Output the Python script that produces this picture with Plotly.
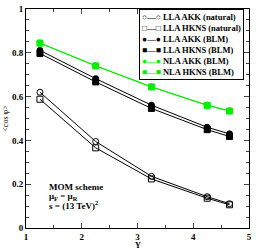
import plotly.graph_objects as go

Y = [1.25, 2.25, 3.25, 4.25, 4.65]
lla_akk_nat = [0.620, 0.395, 0.236, 0.143, 0.111]
lla_hkns_nat = [0.588, 0.366, 0.224, 0.136, 0.106]
lla_akk_blm = [0.811, 0.682, 0.561, 0.460, 0.430]
lla_hkns_blm = [0.797, 0.667, 0.546, 0.449, 0.418]
nla_akk_blm = [0.845, 0.741, 0.645, 0.561, 0.535]
nla_hkns_blm = [0.844, 0.740, 0.644, 0.560, 0.534]

names = ["LLA AKK (natural)", "LLA HKNS (natural)", "LLA AKK (BLM)",
         "LLA HKNS (BLM)", "NLA AKK (BLM)", "NLA HKNS (BLM)"]
series = [lla_akk_nat, lla_hkns_nat, lla_akk_blm, lla_hkns_blm, nla_akk_blm, nla_hkns_blm]
colors = ["black", "black", "black", "black", "#00ee00", "#00ee00"]
symbols = ["circle-open", "square-open", "circle", "square", "circle", "square"]
glyphs = {"circle-open": "○", "square-open": "□", "circle": "●", "square": "■"}

fig = go.Figure()
for n, s, c, sym in zip(names, series, colors, symbols):
    fig.add_trace(go.Scatter(
        x=Y, y=s, name=n, mode="lines+markers", showlegend=False,
        line=dict(color=c, width=1),
        marker=dict(symbol=sym, size=6, color=c, line=dict(color=c, width=1)),
    ))

fig.update_layout(
    width=256, height=250,
    margin=dict(l=26, r=4, t=4, b=22),
    paper_bgcolor="white", plot_bgcolor="white",
    font=dict(family="Liberation Serif", size=10, color="black"),
)
fig.update_xaxes(range=[1, 5], dtick=1, ticks="inside", ticklen=5, mirror="allticks",
                 showline=True, linecolor="black", linewidth=1, showgrid=False, zeroline=False,
                 minor=dict(dtick=0.5, ticks="inside", ticklen=3, showgrid=False),
                 tickfont=dict(family="Liberation Serif", size=9, color="black", weight="bold"))
fig.update_yaxes(range=[0, 1], dtick=0.2, ticks="inside", ticklen=5, mirror="allticks",
                 showline=True, linecolor="black", linewidth=1, showgrid=False, zeroline=False,
                 minor=dict(dtick=0.05, ticks="inside", ticklen=3, showgrid=False),
                 tickfont=dict(family="Liberation Serif", size=9, color="black", weight="bold"),
                 tickformat="~g",
                 title=dict(text="&lt;cos φ&gt;", standoff=2, font=dict(size=8)))

fig.add_annotation(x=0.5, y=0, xref="paper", yref="paper", yshift=-17, text="<b>Y</b>",
                   showarrow=False, xanchor="center", yanchor="middle",
                   font=dict(family="Liberation Serif", size=8, color="black"))

# legend box built from the series names / styles
lines = []
for n, c, sym in zip(names, colors, symbols):
    g = glyphs[sym]
    lines.append(f"<span style='color:{c}'>{g}—{g}</span> <b>{n}</b>")
fig.add_annotation(x=1, y=1, xref="paper", yref="paper", xanchor="right", yanchor="top",
                   xshift=-5, yshift=0, align="left", showarrow=False,
                   text="<br>".join(lines), bgcolor="white", bordercolor="black",
                   borderwidth=1, borderpad=2,
                   font=dict(family="Liberation Serif", size=8.5, color="black"))

anns = [("<b>MOM scheme</b>", 0.188), ("<b>μ<sub>F</sub> = μ<sub>R</sub></b>", 0.145),
        ("<b>s = (13 TeV)<sup>2</sup></b>", 0.105)]
for t, yy in anns:
    fig.add_annotation(x=1.38, y=yy, xref="x", yref="y", text=t, showarrow=False,
                       xanchor="left", yanchor="middle",
                       font=dict(family="Liberation Serif", size=9, color="black"))

fig.write_html("out.html", config={"displayModeBar": False},
               post_script="document.body.style.margin='0';document.body.style.padding='0';")
